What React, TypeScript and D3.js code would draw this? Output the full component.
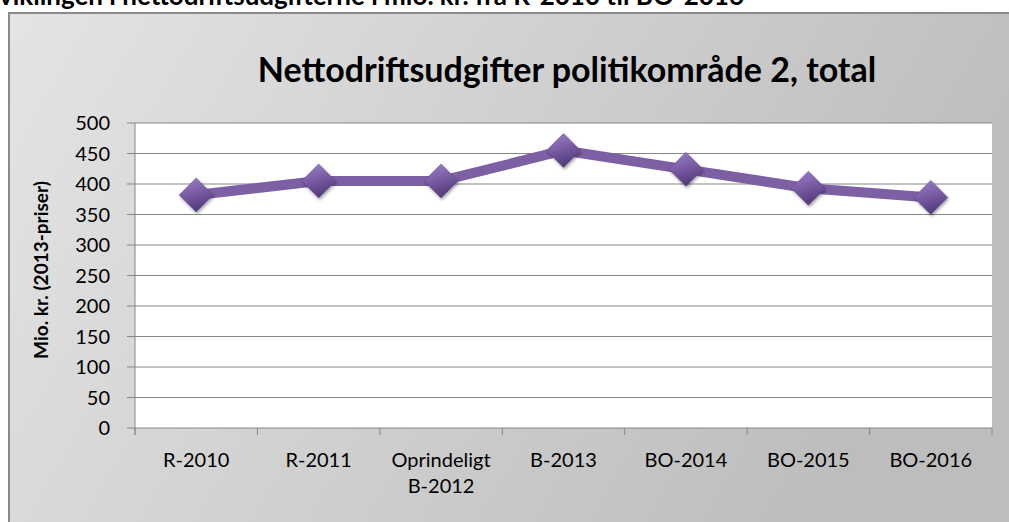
import * as d3 from "d3";
import { useEffect } from "react";

// data
const categories = ["R-2010", "R-2011", "Oprindeligt\nB-2012", "B-2013", "BO-2014", "BO-2015", "BO-2016"];
const values = [382, 405, 405, 455, 424, 393, 378];
const yTicks = [0, 50, 100, 150, 200, 250, 300, 350, 400, 450, 500];

const W = 1009;
const H = 522;
const plot = { left: 135, right: 992, top: 123, bottom: 428 };

const App = () => {
    useEffect(() => {
        document.body.style.margin = "0";
        document.body.style.overflow = "hidden";
    }, []);

    const x = d3.scaleBand().domain(categories).range([plot.left, plot.right]);
    const y = d3.scaleLinear().domain([0, 500]).range([plot.bottom, plot.top]);
    const cx = (c) => x(c) + x.bandwidth() / 2;

    const pts = categories.map((c, i) => [cx(c), y(values[i])]);
    const path = d3.line()(pts);

    // band edges for the small ticks under the axis
    const edges = categories.map((c) => x(c)).concat([plot.right]);

    const labelFont = "Lato, 'Open Sans', sans-serif";
    const r = 17;
    const diamond = `M0,${-r} L${r},0 L0,${r} L${-r},0 Z`;

    return (
        <svg width={W} height={H} style={{ display: "block" }}>
            <defs>
                <linearGradient id="bg" x1="0" y1="0" x2="1" y2="0.3">
                    <stop offset="0" stopColor="#e4e4e4" />
                    <stop offset="1" stopColor="#bdbdbd" />
                </linearGradient>
                <linearGradient id="mk" x1="0" y1="0" x2="0.3" y2="1">
                    <stop offset="0" stopColor="#9d82cb" />
                    <stop offset="0.5" stopColor="#7b5ea6" />
                    <stop offset="1" stopColor="#553c7c" />
                </linearGradient>
                <filter id="sh" x="-50%" y="-50%" width="200%" height="200%">
                    <feDropShadow dx="1" dy="2" stdDeviation="1.5" floodColor="#000" floodOpacity="0.35" />
                </filter>
            </defs>

            {/* heading above the chart, cut off at the top like in the source */}
            <text x={-1} y={5} fontFamily={labelFont} fontWeight="bold" fontSize={26} fill="#000">
                viklingen i nettodriftsudgifterne i mio. kr. fra R-2010 til BO-2016
            </text>

            {/* chart box */}
            <rect x={9} y={13} width={W} height={H} fill="url(#bg)" stroke="#8a8a8a" strokeWidth={2} />

            <text x={567} y={82} textAnchor="middle" fontFamily={labelFont} fontWeight="bold" fontSize={34} fill="#000">
                Nettodriftsudgifter politikområde 2, total
            </text>

            {/* plot area */}
            <rect x={plot.left} y={plot.top} width={plot.right - plot.left} height={plot.bottom - plot.top} fill="#fff" />

            {yTicks.map((t) => (
                <g key={t}>
                    <line x1={127} x2={plot.right} y1={y(t)} y2={y(t)} stroke="#868686" strokeWidth={1} />
                    <text x={110} y={y(t)} dy="0.36em" textAnchor="end" fontFamily={labelFont} fontSize={20} fill="#000">
                        {t}
                    </text>
                </g>
            ))}

            <line x1={plot.left} x2={plot.left} y1={plot.top} y2={plot.bottom + 7} stroke="#868686" strokeWidth={1} />
            {edges.map((e, i) => (
                <line key={i} x1={e} x2={e} y1={plot.bottom} y2={plot.bottom + 7} stroke="#868686" strokeWidth={1} />
            ))}

            {categories.map((c) => (
                <text key={c} x={cx(c)} y={467} textAnchor="middle" fontFamily={labelFont} fontSize={20} fill="#000">
                    {c.split("\n").map((l, i) => (
                        <tspan key={i} x={cx(c)} dy={i === 0 ? 0 : 26}>
                            {l}
                        </tspan>
                    ))}
                </text>
            ))}

            <text transform={`translate(48,270) rotate(-90)`} textAnchor="middle" fontFamily={labelFont} fontWeight="bold" fontSize={19} fill="#000">
                Mio. kr. (2013-priser)
            </text>

            {/* series */}
            <path d={path} fill="none" stroke="#7d5fa3" strokeWidth={10} strokeLinejoin="round" />
            {pts.map((p, i) => (
                <path key={i} d={diamond} transform={`translate(${p[0]},${p[1]})`} fill="url(#mk)" stroke="#5f4688" strokeWidth={0.5} filter="url(#sh)" />
            ))}
        </svg>
    );
};

export default App;
